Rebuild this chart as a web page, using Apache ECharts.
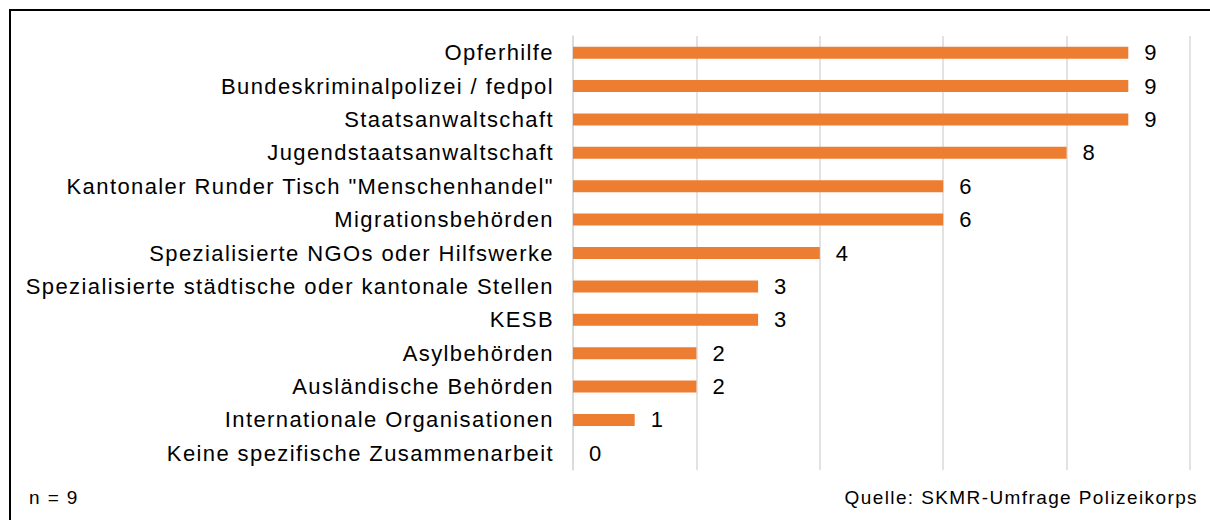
<!DOCTYPE html>
<html>
<head>
<meta charset="utf-8">
<script src="https://cdn.jsdelivr.net/npm/echarts@6/dist/echarts.min.js"></script>
<style>
  html, body { margin: 0; padding: 0; background: #fff; }
  #chart { width: 1210px; height: 520px; }
  /* Excel-style wide spacing of the labels */
  #chart text { letter-spacing: 1.4px; }
</style>
</head>
<body>
<div id="chart"></div>
<script>
const categories = [
  'Opferhilfe',
  'Bundeskriminalpolizei / fedpol',
  'Staatsanwaltschaft',
  'Jugendstaatsanwaltschaft',
  'Kantonaler Runder Tisch "Menschenhandel"',
  'Migrationsbehörden',
  'Spezialisierte NGOs oder Hilfswerke',
  'Spezialisierte städtische oder kantonale Stellen',
  'KESB',
  'Asylbehörden',
  'Ausländische Behörden',
  'Internationale Organisationen',
  'Keine spezifische Zusammenarbeit'
]
const values = [9, 9, 9, 8, 6, 6, 4, 3, 3, 2, 2, 1, 0]
const noteLeft = 'n = 9'
const noteRight = 'Quelle: SKMR-Umfrage Polizeikorps'

const chart = echarts.init(document.getElementById('chart'), null, { renderer: 'svg' })
const font = 'Liberation Sans, Arial, sans-serif'

chart.setOption({
  animation: false,
  backgroundColor: '#fff',
  grid: { left: 573, right: 20, top: 36, bottom: 50, containLabel: false },
  xAxis: {
    type: 'value',
    min: 0,
    max: 10,
    interval: 2,
    axisLabel: { show: false },
    axisLine: { show: false },
    axisTick: { show: false },
    splitLine: { lineStyle: { color: '#d9d9d9', width: 1.5 } }
  },
  yAxis: {
    type: 'category',
    inverse: true,
    data: categories,
    axisTick: { show: false },
    axisLine: { lineStyle: { color: '#d9d9d9', width: 1.5 } },
    axisLabel: { color: '#000', fontSize: 22, fontFamily: font, margin: 19 }
  },
  series: [{
    type: 'bar',
    data: values,
    barWidth: 12,
    itemStyle: { color: '#ED7D31' },
    label: {
      show: true,
      position: 'right',
      distance: 16,
      color: '#000',
      fontSize: 22,
      fontFamily: font
    }
  }],
  graphic: [
    {
      type: 'rect',
      shape: { x: 10, y: 10, width: 1400, height: 700 },
      style: { fill: 'none', stroke: '#000', lineWidth: 2 },
      silent: true
    },
    {
      type: 'text',
      x: 29,
      y: 497,
      style: { text: noteLeft, fill: '#000', fontSize: 19, fontFamily: font, textAlign: 'left', textVerticalAlign: 'middle' }
    },
    {
      type: 'text',
      x: 1198,
      y: 497,
      style: { text: noteRight, fill: '#000', fontSize: 19, fontFamily: font, textAlign: 'right', textVerticalAlign: 'middle' }
    }
  ]
})
</script>
</body>
</html>
